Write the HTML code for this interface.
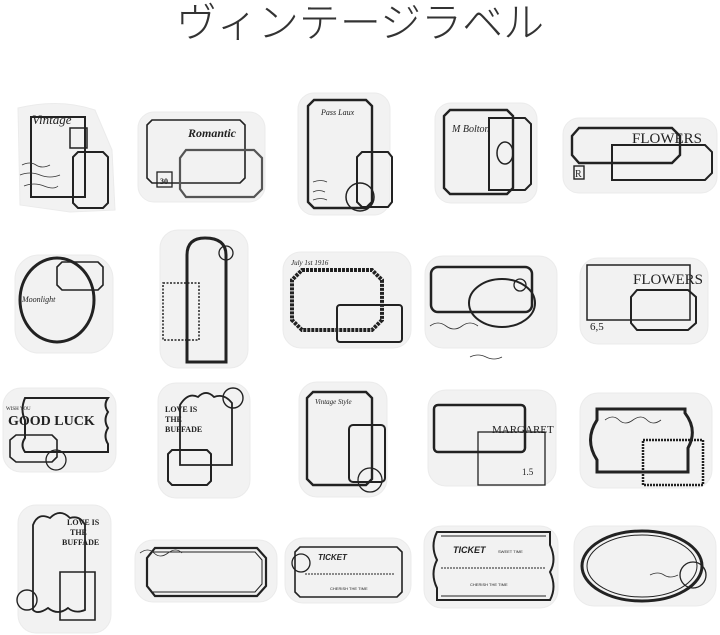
<!DOCTYPE html>
<html><head><meta charset="utf-8"><style>
html,body{margin:0;padding:0;background:#fff;width:720px;height:635px;overflow:hidden}
svg{display:block}
.t{font-family:"Liberation Sans","Noto Sans CJK JP",sans-serif}
</style></head><body>
<svg width="720" height="635" viewBox="0 0 720 635" xmlns="http://www.w3.org/2000/svg">
<text x="360" y="37" text-anchor="middle" font-size="41" fill="#333" font-weight="300" font-family="'Noto Sans CJK JP',sans-serif">ヴィンテージラベル</text>

<g fill="#f2f2f2" stroke="#ebebeb" stroke-width="1">
<path d="M18 108 Q60 98 95 110 L112 150 L115 210 L70 212 L20 205 Z"/>
<rect x="138" y="112" width="127" height="90" rx="16"/>
<rect x="298" y="93" width="92" height="122" rx="16"/>
<rect x="435" y="103" width="102" height="100" rx="16"/>
<rect x="563" y="118" width="154" height="75" rx="16"/>
<rect x="15" y="255" width="98" height="98" rx="24"/>
<rect x="160" y="230" width="88" height="138" rx="18"/>
<rect x="283" y="252" width="128" height="96" rx="18"/>
<rect x="425" y="256" width="132" height="92" rx="18"/>
<rect x="580" y="258" width="128" height="86" rx="18"/>
<rect x="3" y="388" width="113" height="84" rx="18"/>
<rect x="158" y="383" width="92" height="115" rx="18"/>
<rect x="299" y="382" width="88" height="115" rx="18"/>
<rect x="428" y="390" width="128" height="96" rx="18"/>
<rect x="580" y="393" width="132" height="95" rx="18"/>
<rect x="18" y="505" width="93" height="128" rx="18"/>
<rect x="135" y="540" width="142" height="62" rx="18"/>
<rect x="285" y="538" width="126" height="65" rx="18"/>
<rect x="424" y="526" width="134" height="82" rx="18"/>
<rect x="574" y="526" width="142" height="80" rx="20"/>
</g>

<g fill="none" stroke="#222" stroke-width="2">
<rect x="31" y="117" width="54" height="80"/>
<path d="M78 152 H103 L108 157 V203 L103 208 H78 L73 203 V157 Z"/>
<rect x="70" y="128" width="17" height="20" stroke-width="1.5"/>
<path d="M152 120 H240 L245 125 V178 L240 183 H152 L147 178 V125 Z" stroke-width="1.6"/>
<path d="M186 150 H254 L262 158 V189 L254 197 H186 L180 189 V158 Z" stroke="#555" stroke-width="2.2"/>
<rect x="157" y="172" width="15" height="15" stroke-width="1.3"/>
<path d="M314 100 H366 L372 106 V202 L366 208 H314 L308 202 V106 Z" stroke-width="2.4"/>
<path d="M362 152 H388 L392 157 V202 L388 207 H362 L357 202 V157 Z"/>
<circle cx="360" cy="197" r="14" stroke-width="1.5"/>
<path d="M450 110 H507 L513 116 V188 L507 194 H450 L444 188 V116 Z" stroke-width="2.4"/>
<path d="M489 118 H525 L531 124 V184 L525 190 H489 Z"/>
<ellipse cx="505" cy="153" rx="8" ry="11" stroke-width="1.5"/>
<path d="M579 128 H672 L680 136 V155 L672 163 H579 L572 155 V136 Z" stroke-width="2.4"/>
<path d="M612 145 H705 L712 152 V173 L705 180 H612 Z"/>
<rect x="574" y="166" width="10" height="13" stroke-width="1.4"/>
<ellipse cx="57" cy="300" rx="37" ry="42" stroke-width="3"/>
<path d="M62 262 H98 L103 267 V285 L98 290 H62 L57 285 V267 Z" stroke-width="1.6"/>
<path d="M187 362 V255 Q187 238 205 238 Q226 238 226 255 V362 Z" stroke-width="3"/>
<rect x="163" y="283" width="36" height="57" stroke-dasharray="2 1.5" stroke-width="1.5"/>
<circle cx="226" cy="253" r="7" stroke-width="1.3"/>
<path d="M302 270 H372 L382 280 V320 L372 330 H302 L292 320 V280 Z" stroke-width="4" stroke-dasharray="3 1"/>
<rect x="337" y="305" width="65" height="37" rx="3"/>
<rect x="431" y="267" width="101" height="45" rx="7" stroke-width="2.5"/>
<ellipse cx="502" cy="303" rx="33" ry="24" stroke-width="2"/>
<circle cx="520" cy="285" r="6" stroke-width="1.3"/>
<rect x="587" y="265" width="103" height="55" stroke-width="1.5"/>
<path d="M637 290 H688 L696 297 V323 L688 330 H637 L631 323 V297 Z" stroke-width="2"/>
<path d="M25 398 H108 Q103 405 108 412 Q103 420 108 428 Q103 436 108 444 V452 H25 Q20 445 25 438 V420 Q20 410 25 398 Z" stroke-width="2"/>
<path d="M16 435 H52 L57 440 V457 L52 462 H16 L10 457 V440 Z" stroke-width="1.6"/>
<circle cx="56" cy="460" r="10" stroke-width="1.3"/>
<path d="M180 465 V405 Q188 392 198 397 Q206 389 214 397 Q224 393 232 403 V465 Z" stroke-width="1.8"/>
<path d="M172 450 H207 L211 454 V481 L207 485 H172 L168 481 V454 Z"/>
<circle cx="233" cy="398" r="10" stroke-width="1.4"/>
<path d="M313 392 H366 L372 398 V479 L366 485 H313 L307 479 V398 Z" stroke-width="2.4"/>
<rect x="349" y="425" width="36" height="57" rx="4"/>
<circle cx="370" cy="480" r="12" stroke-width="1.3"/>
<rect x="434" y="405" width="91" height="47" rx="4" stroke-width="2.5"/>
<rect x="478" y="432" width="67" height="53" stroke-width="1.3"/>
<path d="M597 409 H685 V413 Q698 430 688 448 V472 H597 V460 Q584 440 597 420 Z" stroke-width="3"/>
<rect x="643" y="440" width="60" height="45" stroke-width="2.5" stroke-dasharray="2 1"/>
<path d="M33 610 V525 Q38 512 50 518 Q60 508 70 518 Q80 515 85 525 V610 Q75 614 68 608 Q58 616 48 608 Q38 615 33 610 Z" stroke-width="1.8"/>
<path d="M60 572 H95 V620 H60 Z" stroke-width="1.6"/>
<circle cx="27" cy="600" r="10" stroke-width="1.4"/>
<path d="M155 548 H257 L266 558 V586 L257 596 H155 L147 586 V558 Z" stroke-width="2.2"/>
<path d="M153 552 H255 L262 560 V584 L255 592 H153" stroke-width="1"/>
<path d="M300 547 H397 L402 552 V592 L397 597 H300 L295 592 V552 Z" stroke-width="1.6"/>
<circle cx="301" cy="563" r="9" stroke-width="1.3"/>
<line x1="305" y1="574" x2="395" y2="574" stroke-width="1" stroke-dasharray="2 1"/>
<path d="M437 532 H550 V545 Q557 560 550 572 Q557 587 550 600 H437 V588 Q430 574 437 560 Q430 546 437 532 Z" stroke-width="2"/>
<line x1="441" y1="536" x2="546" y2="536" stroke-width="1"/>
<line x1="441" y1="596" x2="546" y2="596" stroke-width="1"/>
<line x1="441" y1="568" x2="546" y2="568" stroke-width="1" stroke-dasharray="2 1"/>
<ellipse cx="642" cy="566" rx="60" ry="35" stroke-width="3"/>
<ellipse cx="642" cy="566" rx="55" ry="31" stroke-width="1"/>
<circle cx="693" cy="575" r="13" stroke-width="1.3"/>
</g>

<g fill="none" stroke="#333" stroke-width="0.8">
<path d="M22 165 q8 -4 14 0 t14 0 M20 175 q10 -4 20 0 t20 0 M24 186 q10 -4 20 0 t14 0"/>
<path d="M313 182 q8 -3 14 0 M313 192 q6 -3 12 0 M313 200 q8 -3 14 0"/>
<path d="M430 326 q8 -6 16 0 t16 0 t16 0"/>
<path d="M140 553 q8 -6 14 0 t14 0 t14 0"/>
<path d="M605 420 q8 -6 14 0 t14 0 t14 0 t14 0"/>
<path d="M650 575 q8 -4 14 0 t14 0"/>
<path d="M470 357 q8 -4 16 0 t16 0"/>
</g>

<g fill="#222" font-family="'Liberation Serif',serif">
<text x="32" y="124" font-size="13" font-style="italic">Vintage</text>
<text x="188" y="137" font-size="12" font-style="italic" font-weight="bold">Romantic</text>
<text x="160" y="184" font-size="8" font-weight="bold">30</text>
<text x="321" y="115" font-size="8" font-style="italic">Pass Laux</text>
<text x="452" y="132" font-size="10" font-style="italic">M Bolton</text>
<text x="632" y="143" font-size="15">FLOWERS</text>
<text x="575" y="177" font-size="10">R</text>
<text x="22" y="302" font-size="8" font-style="italic">Moonlight</text>
<text x="291" y="265" font-size="7" font-style="italic">July 1st 1916</text>
<text x="633" y="284" font-size="15">FLOWERS</text>
<text x="590" y="330" font-size="11">6,5</text>
<text x="8" y="425" font-size="14" font-weight="bold">GOOD LUCK</text>
<text x="6" y="410" font-size="5">WISH YOU</text>
<text x="165" y="412" font-size="8" font-weight="bold">LOVE IS</text>
<text x="165" y="422" font-size="8" font-weight="bold">THE</text>
<text x="165" y="432" font-size="8" font-weight="bold">BUFFADE</text>
<text x="315" y="404" font-size="7" font-style="italic">Vintage Style</text>
<text x="492" y="433" font-size="11">MARGARET</text>
<text x="522" y="475" font-size="9">1.5</text>
<text x="67" y="525" font-size="8" font-weight="bold">LOVE IS</text>
<text x="70" y="535" font-size="8" font-weight="bold">THE</text>
<text x="62" y="545" font-size="8" font-weight="bold">BUFFADE</text>
<text x="318" y="560" font-size="8" font-weight="bold" font-style="italic" class="t">TICKET</text>
<text x="453" y="553" font-size="9" font-weight="bold" font-style="italic" class="t">TICKET</text>
<text x="498" y="553" font-size="4" class="t">SWEET TIME</text>
<text x="470" y="586" font-size="4" class="t">CHERISH THE TIME</text>
<text x="330" y="590" font-size="4" class="t">CHERISH THE TIME</text>
</g>
</svg>
</body></html>
